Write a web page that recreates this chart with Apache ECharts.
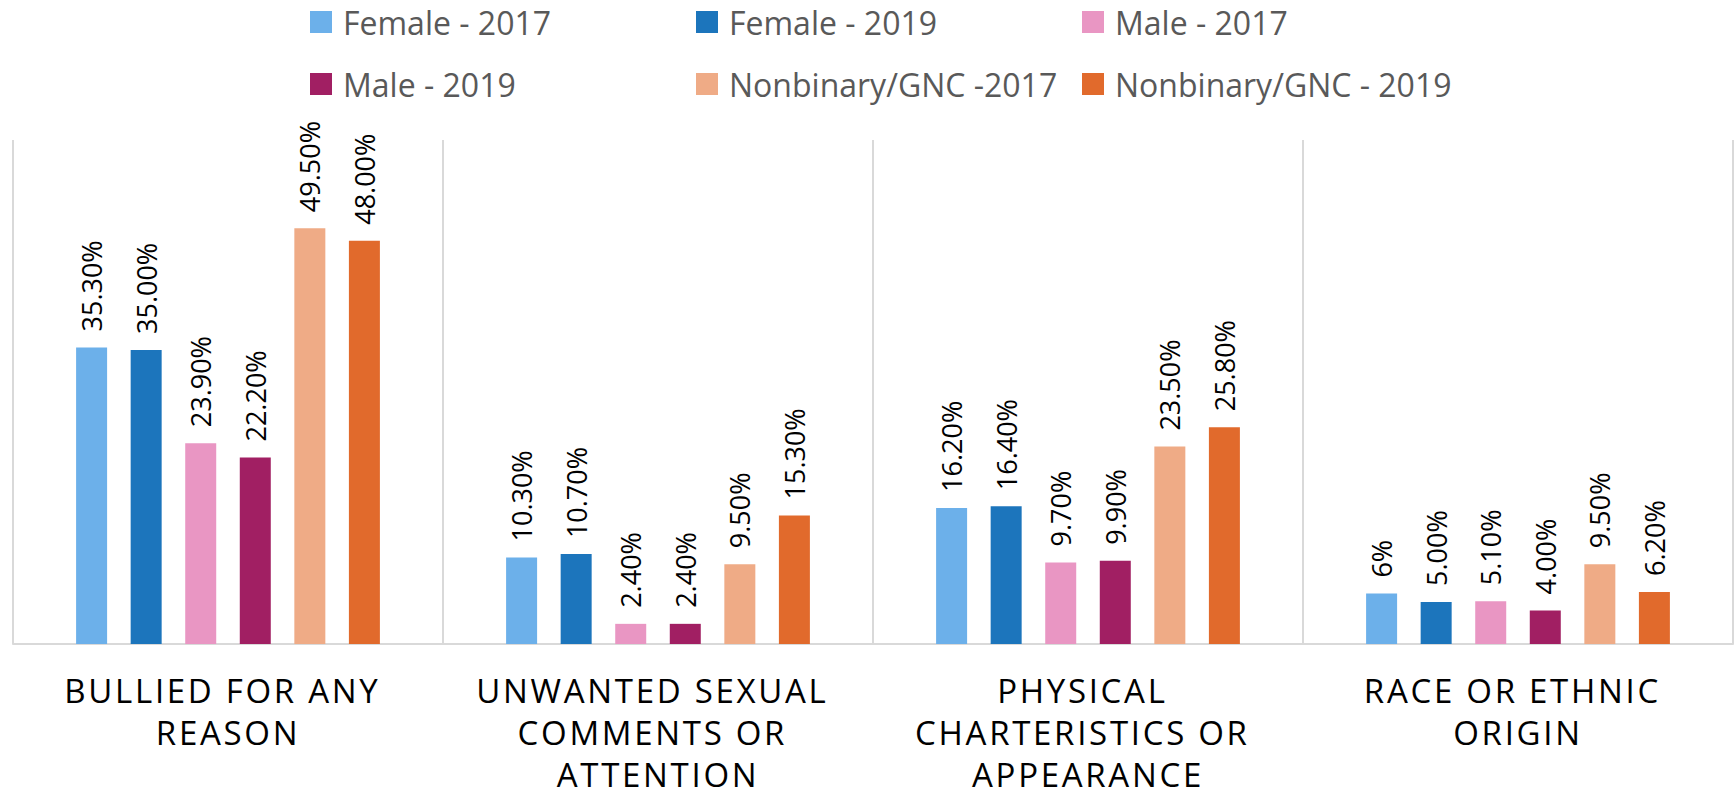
<!DOCTYPE html>
<html>
<head>
<meta charset="utf-8">
<script src="https://cdn.jsdelivr.net/npm/echarts@6/dist/echarts.min.js"></script>
<style>
html,body{margin:0;padding:0;background:#fff;}
#chart{width:1735px;height:799px;}
#chart text[style*="33px"]{letter-spacing:2.7px;}
</style>
</head>
<body>
<div id="chart"></div>
<script>
const categories = ['BULLIED FOR ANY REASON', 'UNWANTED SEXUAL COMMENTS OR ATTENTION', 'PHYSICAL CHARTERISTICS OR APPEARANCE', 'RACE OR ETHNIC ORIGIN'];
const seriesNames = ['Female - 2017', 'Female - 2019', 'Male - 2017', 'Male - 2019', 'Nonbinary/GNC -2017', 'Nonbinary/GNC - 2019'];
const female2017 = [35.3, 10.3, 16.2, 6];
const female2019 = [35.0, 10.7, 16.4, 5.0];
const male2017 = [23.9, 2.4, 9.7, 5.1];
const male2019 = [22.2, 2.4, 9.9, 4.0];
const nonbinary2017 = [49.5, 9.5, 23.5, 9.5];
const nonbinary2019 = [48.0, 15.3, 25.8, 6.2];
// points whose label is shown without decimals: [seriesIndex, categoryIndex]
const integerLabels = [[0, 3]];

const seriesValues = [female2017, female2019, male2017, male2019, nonbinary2017, nonbinary2019];
const colors = ['#6CB0EA', '#1C75BC', '#E996C3', '#A11F63', '#EFAB86', '#E16A2C'];

const chart = echarts.init(document.getElementById('chart'), null, { renderer: 'svg' });
const font = '"Open Sans", "Noto Sans", sans-serif';

const series = seriesValues.map((vals, si) => ({
  name: seriesNames[si],
  type: 'bar',
  data: vals,
  barWidth: 31,
  barGap: '76%',
  itemStyle: { color: colors[si] },
  label: {
    show: true,
    position: 'top',
    rotate: 90,
    align: 'left',
    verticalAlign: 'middle',
    distance: 16,
    fontFamily: font,
    fontSize: 27,
    color: '#000',
    formatter: p => {
      const isInt = integerLabels.some(([s, c]) => s === si && c === p.dataIndex);
      return isInt ? p.value.toFixed(0) + '%' : p.value.toFixed(2) + '%';
    }
  }
}));

chart.setOption({
  animation: false,
  backgroundColor: '#fff',
  legend: {
    left: 305,
    top: -10,
    width: 1250,
    itemWidth: 22,
    itemHeight: 22,
    itemGap: 8,
    icon: 'rect',
    textStyle: {
      fontFamily: font,
      fontSize: 32,
      color: '#595959',
      width: 345,
      lineHeight: 54,
      padding: [0, 0, 0, 6]
    },
    data: seriesNames
  },
  grid: { left: 13, right: 2, top: 140, bottom: 155, containLabel: false, outerBoundsMode: 'none' },
  xAxis: {
    type: 'category',
    data: categories,
    axisLine: { show: true, lineStyle: { color: '#D9D9D9', width: 2 } },
    axisTick: { show: false },
    splitLine: { show: true, lineStyle: { color: '#D9D9D9', width: 2 } },
    axisLabel: {
      interval: 0,
      margin: 25,
      fontFamily: font,
      fontSize: 33,
      color: '#000',
      lineHeight: 42,
      width: 330,
      overflow: 'break'
    }
  },
  yAxis: {
    type: 'value',
    min: 0,
    max: 60,
    show: false,
    splitLine: { show: false }
  },
  series: series
});
</script>
</body>
</html>
